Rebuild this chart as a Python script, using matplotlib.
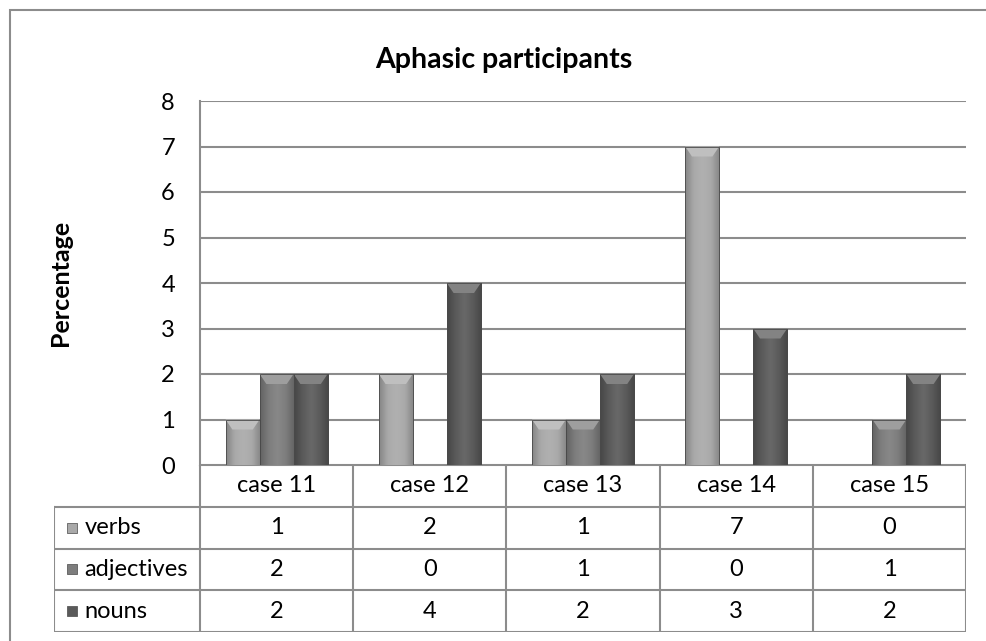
import matplotlib.pyplot as plt
from matplotlib.patches import Rectangle, Polygon
import matplotlib.colors as mcolors
import numpy as np

plt.rcParams['font.family'] = ['Lato', 'DejaVu Sans']

# data
cases = ['case 11', 'case 12', 'case 13', 'case 14', 'case 15']
series = ['verbs', 'adjectives', 'nouns']
verbs = [1, 2, 1, 7, 0]
adjectives = [2, 0, 1, 0, 1]
nouns = [2, 4, 2, 3, 2]
values = [verbs, adjectives, nouns]
colors = ['#a9a9a9', '#7d7d7d', '#5a5a5a']

W, H = 987, 641
fig = plt.figure(figsize=(W / 100, H / 100), dpi=100)
grid_c = '#8c8c8c'
fs = 17

# outer chart border
fig.patches.append(Rectangle((10 / W, -0.1), 1.1, (H - 10) / H + 0.1, transform=fig.transFigure,
                             fill=False, ec='#8c8c8c', lw=1.5))

def px(x0, y0, x1, y1):
    return [x0 / W, 1 - y1 / H, (x1 - x0) / W, (y1 - y0) / H]

def shade(c, f):
    r = np.array(mcolors.to_rgb(c))
    return tuple(np.clip(r * f if f < 1 else r + (1 - r) * (f - 1), 0, 1))

# main bar axes
ax = fig.add_axes(px(200, 101, 966, 465))
x = np.arange(len(cases))
bw = 0.222
grad = np.concatenate([np.linspace(0.8, 1.08, 10), np.linspace(1.08, 0.8, 10)])
for i, (vals, c) in enumerate(zip(values, colors)):
    bars = ax.bar(x + (i - 1) * bw, vals, bw, color=c, edgecolor='#4a4a4a', lw=0.6, zorder=3)
    cmap = mcolors.LinearSegmentedColormap.from_list('g', [shade(c, 0.8), c, shade(c, 1.08)])
    for b in bars:
        h = b.get_height()
        if h <= 0:
            continue
        x0, w = b.get_x(), b.get_width()
        im = ax.imshow(grad[None, :], extent=[x0, x0 + w, 0, h], aspect='auto',
                       cmap=cmap, vmin=0.8, vmax=1.08, zorder=3.5, interpolation='bicubic')
        im.set_clip_path(b)
        bev = 0.22
        ax.add_patch(Polygon([[x0, h], [x0 + w, h], [x0 + w * 0.8, h - bev], [x0 + w * 0.2, h - bev]],
                             closed=True, color=shade(c, 1.25), lw=0, zorder=4))
        ax.add_patch(Rectangle((x0, 0), w, h, fill=False, ec='#4a4a4a', lw=0.6, zorder=4.5))
ax.set_xlim(-0.5, len(cases) - 0.5)
ax.set_ylim(0, 8)
ax.set_yticks(range(0, 9))
ax.set_xticks([])
ax.yaxis.grid(True, color=grid_c, lw=1.5, zorder=0)
ax.tick_params(axis='y', length=0, labelsize=fs, pad=18)
for s in ['top', 'right', 'bottom']:
    ax.spines[s].set_visible(False)
ax.spines['left'].set_color(grid_c)
ax.spines['left'].set_linewidth(1.5)
ax.set_ylabel('Percentage', fontsize=18, fontweight='bold', labelpad=64)
ax.set_title('Aphasic participants', fontsize=20.5, fontweight='bold', pad=24, x=0.396)

# data table axes
tax = fig.add_axes(px(54, 465, 966, 632))
lab_w = 146 / 153
tax.set_xlim(-0.5 - lab_w, len(cases) - 0.5)
tax.set_ylim(4, 0)
tax.axis('off')
lk = dict(color=grid_c, lw=1.5, solid_capstyle='projecting')
# header row
tax.plot([-0.5, len(cases) - 0.5], [0, 0], **lk)
for r in range(1, 5):
    tax.plot([-0.5 - lab_w, len(cases) - 0.5], [r, r], **lk)
for j in range(len(cases) + 1):
    tax.plot([j - 0.5, j - 0.5], [0, 4], **lk)
tax.plot([-0.5 - lab_w] * 2, [1, 4], **lk)
for j, name in enumerate(cases):
    tax.text(j, 0.5, name, ha='center', va='center', fontsize=fs)
for i, (name, vals, c) in enumerate(zip(series, values, colors)):
    tax.scatter([-0.5 - lab_w + 0.12], [i + 1.5], marker='s', s=60, color=c,
                edgecolor='#4a4a4a', lw=0.5)
    tax.text(-0.5 - lab_w + 0.2, i + 1.5, name, ha='left', va='center', fontsize=fs)
    for j, v in enumerate(vals):
        tax.text(j, i + 1.5, str(v), ha='center', va='center', fontsize=fs)

fig.savefig('out.png', dpi=100)
